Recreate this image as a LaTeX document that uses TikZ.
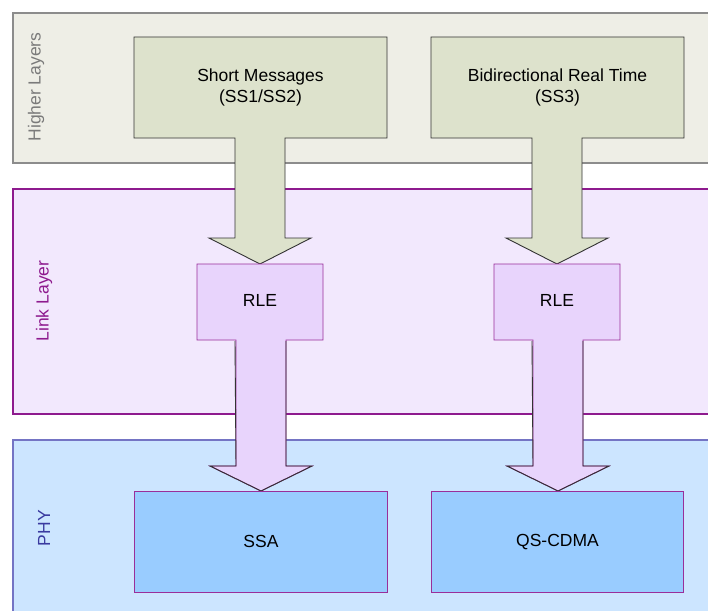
\documentclass[tikz,border=0pt]{standalone}
\usepackage{fontspec}
\setmainfont{Liberation Sans}
\begin{document}
\begin{tikzpicture}[x=1pt,y=-1pt,
  font=\fontsize{17.5}{21}\selectfont,
  band/.style={line width=1.2pt},
  flow/.style={line width=0.9pt, line join=miter},
  lbl/.style={align=center, text=black, inner sep=0pt},
  side/.style={rotate=90, inner sep=0pt}]
\definecolor{hlfill}{HTML}{EEEEE6}
\definecolor{hldraw}{HTML}{8C8C8C}
\definecolor{hltext}{HTML}{7A7A7A}
\definecolor{llfill}{HTML}{F2E8FD}
\definecolor{lldraw}{HTML}{8E1A8E}
\definecolor{phyfill}{HTML}{CCE5FF}
\definecolor{phydraw}{HTML}{7474C4}
\definecolor{phytext}{HTML}{3A3AA0}
\definecolor{appfill}{HTML}{DDE2CC}
\definecolor{rlefill}{HTML}{E8D4FC}
\definecolor{rledraw}{HTML}{9A2E9A}
\definecolor{phybox}{HTML}{99CCFF}
\useasboundingbox (0,0) rectangle (708,610);

% layer bands (open on the right and, for PHY, at the bottom)
\fill[white] (0,0) rectangle (708,610);
\fill[hlfill]  (13,13)  rectangle (720,163);
\draw[band, draw=hldraw] (720,13) -- (13,13) -- (13,163) -- (720,163);
\fill[llfill]  (13,189) rectangle (720,414);
\draw[band, draw=lldraw] (720,189) -- (13,189) -- (13,414) -- (720,414);
\fill[phyfill] (13,440) rectangle (720,620);
\draw[band, draw=phydraw] (720,440) -- (13,440) -- (13,620);

% layer names
\node[side, text=hltext]  (hl)  at (36,87)  {Higher Layers};
\node[side, text=lldraw]  (ll)  at (44,301) {Link Layer};
\node[side, text=phytext] (phy) at (44,528) {PHY};

% higher-layer services, each box running into an arrow
\foreach \x in {134, 431}{
  \draw[flow, draw=black!80, fill=appfill]
    (\x,37) -- ++(253,0) -- ++(0,101) -- ++(-102,0) -- ++(0,100)
    -- ++(26,0) -- ++(-51,26) -- ++(-51,-26) -- ++(26,0) -- ++(0,-100)
    -- ++(-101,0) -- cycle;
}
\node[lbl] (sm) at (260.5,87) {Short Messages\\(SS1/SS2)};
\node[lbl] (bd) at (557.5,87) {Bidirectional Real Time\\(SS3)};

% link-layer RLE boxes, each running into an arrow with a dark outline
\foreach \x in {197, 494}{
  \draw[flow, draw=rledraw, fill=rlefill]
    (\x,264) -- ++(126,0) -- ++(0,76) -- ++(-37,0) -- ++(0,126)
    -- ++(26,0) -- ++(-51,25) -- ++(-51,-25) -- ++(26,0) -- ++(0,-126)
    -- ++(-39,0) -- cycle;
  \draw[flow, draw=black!80]
    (\x+89,341) -- (\x+89,466) -- ++(26,0) -- ++(-51,25) -- ++(-51,-25)
    -- ++(26,0) -- (\x+38,341);
}
\node[lbl] (rle1) at (260,300) {RLE};
\node[lbl] (rle2) at (557,300) {RLE};

% physical-layer boxes
\node[draw=rledraw, line width=0.9pt, fill=phybox, minimum width=253pt,
  minimum height=101pt, inner sep=0pt, anchor=north west] (ssa) at (134,491) {SSA};
\node[draw=rledraw, line width=0.9pt, fill=phybox, minimum width=252pt,
  minimum height=101pt, inner sep=0pt, anchor=north west] (qs) at (431,491) {QS-CDMA};
\end{tikzpicture}
\end{document}
